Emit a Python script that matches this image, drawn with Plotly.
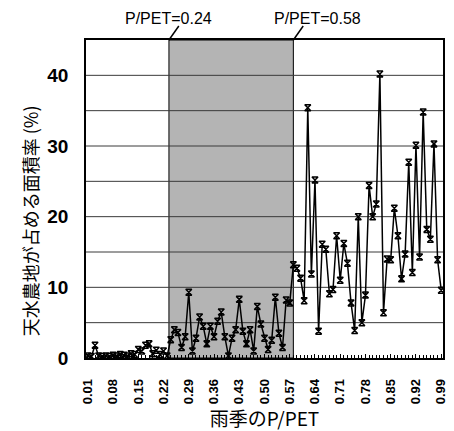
import plotly.graph_objects as go

# ---- data ----
p_pet = [round(0.01 * k, 2) for k in range(1, 100)]
area_pct = [
    0.3, 0.2, 1.8, 0.3, 0.2, 0.3, 0.2, 0.4, 0.3, 0.5,      # 0.01-0.10
    0.4, 0.3, 0.6, 0.5, 1.2, 1.0, 1.8, 2.0, 0.6, 1.1,      # 0.11-0.20
    0.5, 1.0, 0.3, 2.6, 4.0, 3.6, 1.5, 3.0, 9.3, 1.0,      # 0.21-0.30
    2.8, 5.8, 4.5, 2.0, 4.5, 3.0, 5.2, 6.5, 3.0, 0.3,      # 0.31-0.40
    2.8, 4.0, 8.3, 3.8, 2.0, 4.0, 1.0, 7.3, 4.8, 2.8,      # 0.41-0.50
    1.2, 2.5, 8.6, 3.5, 1.5, 8.2, 7.8, 13.2, 12.7, 11.3,   # 0.51-0.60
    8.1, 35.4, 11.9, 25.2, 3.8, 16.1, 15.4, 9.1, 9.7, 17.3,  # 0.61-0.70
    11.0, 16.2, 13.4, 7.8, 3.9, 20.0, 5.0, 8.9, 24.4, 20.0,  # 0.71-0.80
    21.8, 40.2, 6.4, 14.0, 13.9, 21.2, 17.3, 11.2, 14.7, 27.7,  # 0.81-0.90
    12.1, 30.1, 14.3, 34.8, 18.2, 16.8, 30.3, 13.9, 9.6,   # 0.91-0.99
]
x_tick_vals = [round(0.01 + 0.07 * k, 2) for k in range(15)]
x_tick_text = [f"{v:.2f}" for v in x_tick_vals]
y_tick_vals = [0, 5, 10, 15, 20, 25, 30, 35, 40]
y_tick_text = ["0", "", "10", "", "20", "", "30", "", "40"]
zone_start, zone_end = 0.235, 0.58
label_low, label_high = "P/PET=0.24", "P/PET=0.58"
x_title = "雨季のP/PET"
y_title = "天水農地が占める面積率 (%)"

LAT = "Liberation Sans, Arial, sans-serif"
CJK = "Noto Sans CJK JP, sans-serif"

W, H = 454, 431
M = dict(l=86, r=6, t=40, b=73)
X_RANGE = [0.005, 0.995]
Y_RANGE = [0, 45]
plot_w = W - M["l"] - M["r"]
plot_h = H - M["t"] - M["b"]


def to_paper_x(v):
    return (v - X_RANGE[0]) / (X_RANGE[1] - X_RANGE[0])


def to_paper_y(v):
    return (v - Y_RANGE[0]) / (Y_RANGE[1] - Y_RANGE[0])


fig = go.Figure()
fig.add_trace(go.Scatter(
    x=p_pet, y=area_pct, mode="lines+markers",
    line=dict(color="black", width=1.5),
    marker=dict(symbol="hourglass-open", size=6, color="black",
                line=dict(color="black", width=1.5)),
    showlegend=False,
))

# shaded zone (lower paper layer)
fig.add_shape(type="rect", xref="paper", yref="paper",
              x0=to_paper_x(zone_start), x1=to_paper_x(zone_end), y0=0, y1=1,
              fillcolor="#b4b4b4", line=dict(color="black", width=1), layer="below")

# horizontal gridlines drawn over the zone (same lower paper layer, after the rect)
for gv in y_tick_vals[1:]:
    yp = to_paper_y(gv)
    fig.add_shape(type="line", xref="paper", yref="paper", x0=0, x1=1, y0=yp, y1=yp,
                  line=dict(color="#3a3a3a", width=1), layer="below")

# leader lines
for zv in (zone_start, zone_end):
    px = to_paper_x(zv)
    fig.add_shape(type="line", xref="paper", yref="paper",
                  x0=px, y0=1, x1=px + 10 / plot_w, y1=1 + 14 / plot_h,
                  line=dict(color="black", width=1.5))

fig.add_annotation(x=zone_start, y=1, xref="x", yref="paper", text=label_low,
                   showarrow=False, yanchor="bottom", yshift=11, xshift=0,
                   font=dict(family=LAT, size=16, color="black"))
fig.add_annotation(x=zone_end, y=1, xref="x", yref="paper", text=label_high,
                   showarrow=False, yanchor="bottom", yshift=11, xshift=24,
                   font=dict(family=LAT, size=16, color="black"))

# y-axis title as annotation (placed lower than the plot centre, as in the original)
fig.add_annotation(x=0, y=0.43, xref="paper", yref="paper", text=y_title,
                   textangle=-90, showarrow=False, xanchor="center", yanchor="middle",
                   xshift=-56, font=dict(family=CJK, size=18, color="black"))

fig.update_layout(
    width=W, height=H,
    margin=M,
    paper_bgcolor="white", plot_bgcolor="rgba(0,0,0,0)",
    xaxis=dict(
        range=X_RANGE, tickmode="array", tickvals=x_tick_vals, ticktext=x_tick_text,
        tickangle=-90, tickfont=dict(family=LAT, size=13, color="black", weight="bold"),
        ticks="inside", ticklen=4, tickcolor="black", ticklabelstandoff=14,
        showline=True, linecolor="black", linewidth=1.5, mirror=True, showgrid=False,
        zeroline=False,
        minor=dict(tickvals=p_pet, ticks="inside", ticklen=3, tickcolor="black", showgrid=False),
        title=dict(text=x_title, font=dict(family=CJK, size=19, color="black"), standoff=6),
    ),
    yaxis=dict(
        range=Y_RANGE, tickmode="array", tickvals=y_tick_vals, ticktext=y_tick_text,
        tickfont=dict(family=LAT, size=19, color="black", weight="bold"),
        ticks="", ticklabelstandoff=12,
        showline=True, linecolor="black", linewidth=1.5, mirror=True,
        showgrid=False, zeroline=False,
    ),
)

fig.write_html("out.html")
